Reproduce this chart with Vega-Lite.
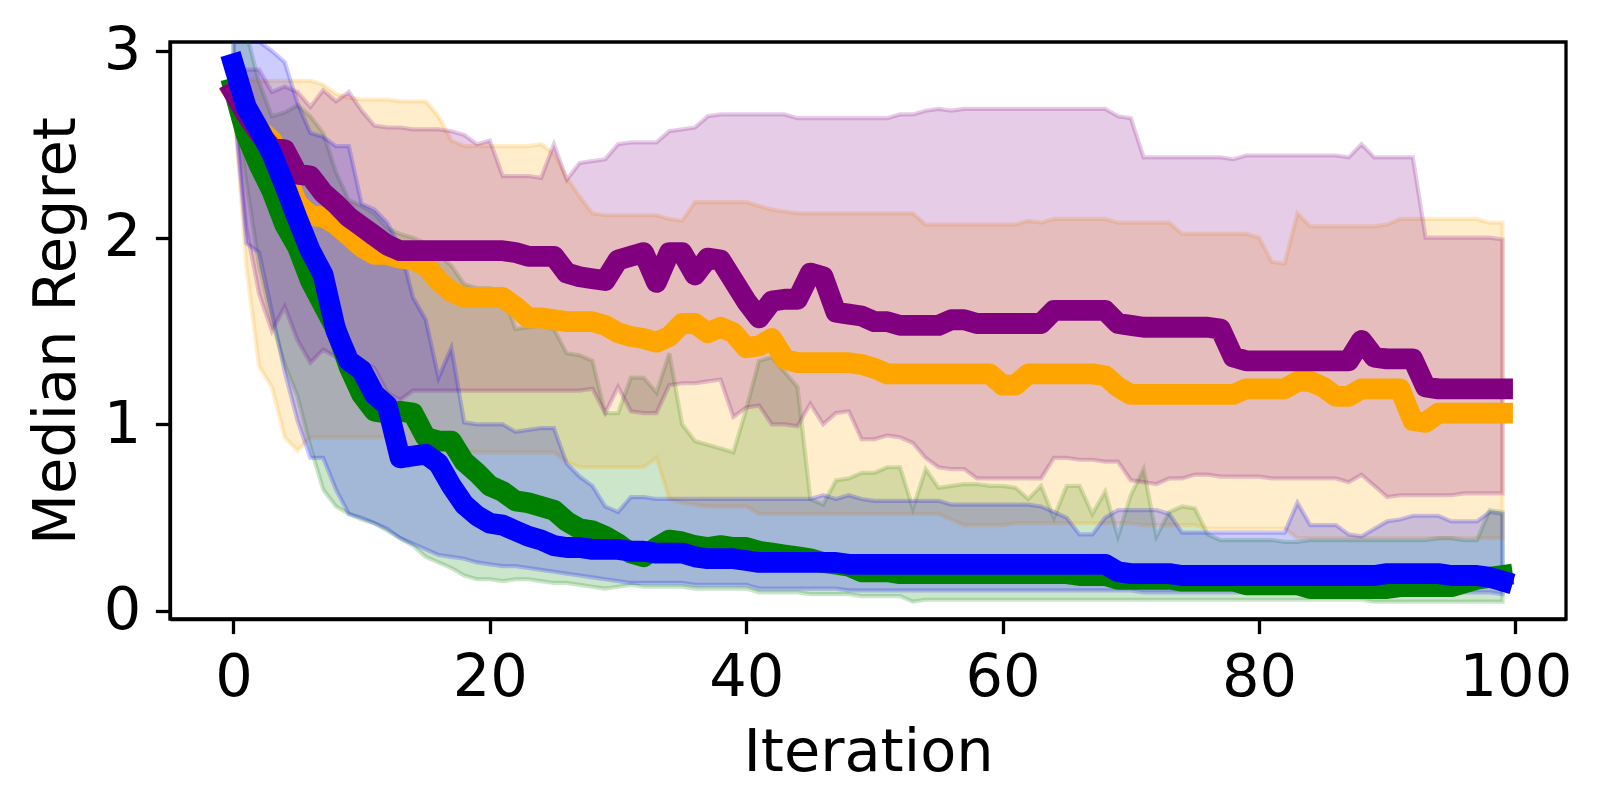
{
  "$schema": "https://vega.github.io/schema/vega-lite/v6.json",
  "width": 1396,
  "height": 577,
  "autosize": {"type": "none"},
  "padding": {"left": 170, "top": 42, "right": 34, "bottom": 191},
  "background": "white",
  "datasets": {
    "green": [
      {"i":0,"med":2.80,"lo":2.75,"hi":3.30},{"i":1,"med":2.55,"lo":2.30,"hi":3.10},{"i":2,"med":2.39,"lo":1.85,"hi":2.83},{"i":3,"med":2.25,"lo":1.55,"hi":2.65},{"i":4,"med":2.07,"lo":1.32,"hi":2.67},
      {"i":5,"med":1.95,"lo":1.15,"hi":2.71},{"i":6,"med":1.77,"lo":0.88,"hi":2.65},{"i":7,"med":1.64,"lo":0.65,"hi":2.56},{"i":8,"med":1.51,"lo":0.56,"hi":2.35},{"i":9,"med":1.31,"lo":0.52,"hi":2.20},
      {"i":10,"med":1.16,"lo":0.49,"hi":2.17},{"i":11,"med":1.07,"lo":0.47,"hi":2.13},{"i":12,"med":1.06,"lo":0.43,"hi":2.05},{"i":13,"med":1.07,"lo":0.39,"hi":2.02},{"i":14,"med":1.06,"lo":0.35,"hi":2.00},
      {"i":15,"med":0.93,"lo":0.29,"hi":1.97},{"i":16,"med":0.91,"lo":0.26,"hi":1.91},{"i":17,"med":0.91,"lo":0.23,"hi":1.85},{"i":18,"med":0.80,"lo":0.19,"hi":1.75},{"i":19,"med":0.74,"lo":0.17,"hi":1.73},
      {"i":20,"med":0.67,"lo":0.17,"hi":1.73},{"i":21,"med":0.64,"lo":0.16,"hi":1.70},{"i":22,"med":0.59,"lo":0.17,"hi":1.51},{"i":23,"med":0.58,"lo":0.17,"hi":1.52},{"i":24,"med":0.56,"lo":0.16,"hi":1.53},
      {"i":25,"med":0.54,"lo":0.15,"hi":1.51},{"i":26,"med":0.48,"lo":0.15,"hi":1.38},{"i":27,"med":0.44,"lo":0.14,"hi":1.37},{"i":28,"med":0.43,"lo":0.13,"hi":1.34},{"i":29,"med":0.40,"lo":0.12,"hi":1.06},
      {"i":30,"med":0.36,"lo":0.13,"hi":1.06},{"i":31,"med":0.31,"lo":0.14,"hi":1.25},{"i":32,"med":0.29,"lo":0.13,"hi":1.25},{"i":33,"med":0.34,"lo":0.13,"hi":1.17},{"i":34,"med":0.38,"lo":0.13,"hi":1.38},
      {"i":35,"med":0.37,"lo":0.13,"hi":1.00},{"i":36,"med":0.35,"lo":0.12,"hi":0.91},{"i":37,"med":0.34,"lo":0.12,"hi":0.89},{"i":38,"med":0.35,"lo":0.12,"hi":0.87},{"i":39,"med":0.34,"lo":0.12,"hi":0.85},
      {"i":40,"med":0.34,"lo":0.12,"hi":1.08},{"i":41,"med":0.32,"lo":0.10,"hi":1.34},{"i":42,"med":0.31,"lo":0.10,"hi":1.36},{"i":43,"med":0.30,"lo":0.10,"hi":1.28},{"i":44,"med":0.29,"lo":0.10,"hi":1.20},
      {"i":45,"med":0.28,"lo":0.09,"hi":0.60},{"i":46,"med":0.26,"lo":0.09,"hi":0.57},{"i":47,"med":0.25,"lo":0.09,"hi":0.70},{"i":48,"med":0.24,"lo":0.09,"hi":0.71},{"i":49,"med":0.21,"lo":0.08,"hi":0.74},
      {"i":50,"med":0.21,"lo":0.08,"hi":0.74},{"i":51,"med":0.21,"lo":0.08,"hi":0.77},{"i":52,"med":0.20,"lo":0.08,"hi":0.77},{"i":53,"med":0.20,"lo":0.05,"hi":0.55},{"i":54,"med":0.20,"lo":0.06,"hi":0.76},
      {"i":55,"med":0.20,"lo":0.06,"hi":0.66},{"i":56,"med":0.20,"lo":0.06,"hi":0.67},{"i":57,"med":0.20,"lo":0.06,"hi":0.68},{"i":58,"med":0.20,"lo":0.06,"hi":0.68},{"i":59,"med":0.20,"lo":0.06,"hi":0.67},
      {"i":60,"med":0.20,"lo":0.06,"hi":0.67},{"i":61,"med":0.20,"lo":0.06,"hi":0.66},{"i":62,"med":0.20,"lo":0.06,"hi":0.60},{"i":63,"med":0.20,"lo":0.06,"hi":0.67},{"i":64,"med":0.20,"lo":0.06,"hi":0.50},
      {"i":65,"med":0.20,"lo":0.06,"hi":0.67},{"i":66,"med":0.19,"lo":0.06,"hi":0.67},{"i":67,"med":0.19,"lo":0.06,"hi":0.52},{"i":68,"med":0.19,"lo":0.06,"hi":0.64},{"i":69,"med":0.17,"lo":0.06,"hi":0.40},
      {"i":70,"med":0.17,"lo":0.06,"hi":0.62},{"i":71,"med":0.17,"lo":0.06,"hi":0.76},{"i":72,"med":0.17,"lo":0.06,"hi":0.40},{"i":73,"med":0.17,"lo":0.06,"hi":0.53},{"i":74,"med":0.16,"lo":0.06,"hi":0.56},
      {"i":75,"med":0.16,"lo":0.06,"hi":0.55},{"i":76,"med":0.16,"lo":0.06,"hi":0.41},{"i":77,"med":0.16,"lo":0.06,"hi":0.38},{"i":78,"med":0.16,"lo":0.06,"hi":0.38},{"i":79,"med":0.14,"lo":0.06,"hi":0.38},
      {"i":80,"med":0.14,"lo":0.06,"hi":0.38},{"i":81,"med":0.14,"lo":0.06,"hi":0.38},{"i":82,"med":0.14,"lo":0.06,"hi":0.37},{"i":83,"med":0.14,"lo":0.06,"hi":0.37},{"i":84,"med":0.12,"lo":0.06,"hi":0.38},
      {"i":85,"med":0.12,"lo":0.06,"hi":0.38},{"i":86,"med":0.12,"lo":0.06,"hi":0.38},{"i":87,"med":0.12,"lo":0.06,"hi":0.38},{"i":88,"med":0.12,"lo":0.06,"hi":0.38},{"i":89,"med":0.12,"lo":0.05,"hi":0.38},
      {"i":90,"med":0.12,"lo":0.05,"hi":0.38},{"i":91,"med":0.13,"lo":0.05,"hi":0.38},{"i":92,"med":0.13,"lo":0.05,"hi":0.38},{"i":93,"med":0.13,"lo":0.05,"hi":0.38},{"i":94,"med":0.13,"lo":0.05,"hi":0.39},
      {"i":95,"med":0.13,"lo":0.05,"hi":0.39},{"i":96,"med":0.15,"lo":0.05,"hi":0.38},{"i":97,"med":0.17,"lo":0.05,"hi":0.38},{"i":98,"med":0.18,"lo":0.05,"hi":0.54},{"i":99,"med":0.19,"lo":0.05,"hi":0.53}
    ],
    "orange": [
      {"i":0,"med":2.78,"lo":2.75,"hi":2.85},{"i":1,"med":2.68,"lo":1.85,"hi":2.85},{"i":2,"med":2.58,"lo":1.31,"hi":2.84},{"i":3,"med":2.52,"lo":1.20,"hi":2.84},{"i":4,"med":2.35,"lo":0.93,"hi":2.84},
      {"i":5,"med":2.18,"lo":0.86,"hi":2.84},{"i":6,"med":2.12,"lo":0.93,"hi":2.84},{"i":7,"med":2.11,"lo":0.93,"hi":2.82},{"i":8,"med":2.07,"lo":0.93,"hi":2.77},{"i":9,"med":2.01,"lo":0.93,"hi":2.75},
      {"i":10,"med":1.95,"lo":0.93,"hi":2.74},{"i":11,"med":1.91,"lo":0.93,"hi":2.74},{"i":12,"med":1.91,"lo":0.93,"hi":2.74},{"i":13,"med":1.89,"lo":0.93,"hi":2.73},{"i":14,"med":1.88,"lo":0.85,"hi":2.73},
      {"i":15,"med":1.85,"lo":0.85,"hi":2.73},{"i":16,"med":1.77,"lo":0.85,"hi":2.65},{"i":17,"med":1.71,"lo":0.85,"hi":2.52},{"i":18,"med":1.68,"lo":0.85,"hi":2.49},{"i":19,"med":1.68,"lo":0.85,"hi":2.49},
      {"i":20,"med":1.68,"lo":0.85,"hi":2.49},{"i":21,"med":1.68,"lo":0.85,"hi":2.49},{"i":22,"med":1.63,"lo":0.85,"hi":2.49},{"i":23,"med":1.57,"lo":0.85,"hi":2.49},{"i":24,"med":1.57,"lo":0.85,"hi":2.50},
      {"i":25,"med":1.56,"lo":0.85,"hi":2.45},{"i":26,"med":1.55,"lo":0.80,"hi":2.32},{"i":27,"med":1.55,"lo":0.77,"hi":2.22},{"i":28,"med":1.55,"lo":0.77,"hi":2.13},{"i":29,"med":1.53,"lo":0.77,"hi":2.12},
      {"i":30,"med":1.49,"lo":0.77,"hi":2.12},{"i":31,"med":1.47,"lo":0.77,"hi":2.12},{"i":32,"med":1.46,"lo":0.77,"hi":2.12},{"i":33,"med":1.44,"lo":0.82,"hi":2.12},{"i":34,"med":1.47,"lo":0.60,"hi":2.10},
      {"i":35,"med":1.54,"lo":0.58,"hi":2.09},{"i":36,"med":1.54,"lo":0.57,"hi":2.19},{"i":37,"med":1.49,"lo":0.56,"hi":2.19},{"i":38,"med":1.52,"lo":0.56,"hi":2.19},{"i":39,"med":1.49,"lo":0.56,"hi":2.19},
      {"i":40,"med":1.41,"lo":0.56,"hi":2.19},{"i":41,"med":1.42,"lo":0.52,"hi":2.17},{"i":42,"med":1.46,"lo":0.52,"hi":2.15},{"i":43,"med":1.35,"lo":0.52,"hi":2.14},{"i":44,"med":1.33,"lo":0.52,"hi":2.13},
      {"i":45,"med":1.33,"lo":0.52,"hi":2.13},{"i":46,"med":1.33,"lo":0.52,"hi":2.13},{"i":47,"med":1.33,"lo":0.52,"hi":2.13},{"i":48,"med":1.33,"lo":0.52,"hi":2.13},{"i":49,"med":1.32,"lo":0.52,"hi":2.13},
      {"i":50,"med":1.30,"lo":0.52,"hi":2.13},{"i":51,"med":1.27,"lo":0.52,"hi":2.13},{"i":52,"med":1.27,"lo":0.52,"hi":2.13},{"i":53,"med":1.27,"lo":0.52,"hi":2.13},{"i":54,"med":1.27,"lo":0.52,"hi":2.07},
      {"i":55,"med":1.27,"lo":0.52,"hi":2.07},{"i":56,"med":1.27,"lo":0.49,"hi":2.07},{"i":57,"med":1.27,"lo":0.46,"hi":2.07},{"i":58,"med":1.27,"lo":0.46,"hi":2.07},{"i":59,"med":1.27,"lo":0.46,"hi":2.07},
      {"i":60,"med":1.21,"lo":0.46,"hi":2.07},{"i":61,"med":1.21,"lo":0.47,"hi":2.07},{"i":62,"med":1.27,"lo":0.47,"hi":2.09},{"i":63,"med":1.27,"lo":0.47,"hi":2.08},{"i":64,"med":1.27,"lo":0.47,"hi":2.10},
      {"i":65,"med":1.27,"lo":0.47,"hi":2.10},{"i":66,"med":1.27,"lo":0.47,"hi":2.10},{"i":67,"med":1.27,"lo":0.47,"hi":2.10},{"i":68,"med":1.26,"lo":0.47,"hi":2.10},{"i":69,"med":1.20,"lo":0.47,"hi":2.08},
      {"i":70,"med":1.16,"lo":0.47,"hi":2.08},{"i":71,"med":1.16,"lo":0.46,"hi":2.08},{"i":72,"med":1.16,"lo":0.46,"hi":2.08},{"i":73,"med":1.16,"lo":0.46,"hi":2.08},{"i":74,"med":1.16,"lo":0.46,"hi":2.02},
      {"i":75,"med":1.16,"lo":0.46,"hi":2.02},{"i":76,"med":1.16,"lo":0.44,"hi":2.02},{"i":77,"med":1.16,"lo":0.44,"hi":2.02},{"i":78,"med":1.16,"lo":0.44,"hi":2.02},{"i":79,"med":1.19,"lo":0.44,"hi":2.02},
      {"i":80,"med":1.19,"lo":0.44,"hi":2.00},{"i":81,"med":1.19,"lo":0.44,"hi":1.87},{"i":82,"med":1.19,"lo":0.44,"hi":1.86},{"i":83,"med":1.23,"lo":0.39,"hi":2.13},{"i":84,"med":1.23,"lo":0.39,"hi":2.06},
      {"i":85,"med":1.20,"lo":0.39,"hi":2.06},{"i":86,"med":1.15,"lo":0.39,"hi":2.06},{"i":87,"med":1.15,"lo":0.39,"hi":2.06},{"i":88,"med":1.19,"lo":0.39,"hi":2.06},{"i":89,"med":1.19,"lo":0.39,"hi":2.06},
      {"i":90,"med":1.19,"lo":0.39,"hi":2.07},{"i":91,"med":1.19,"lo":0.39,"hi":2.10},{"i":92,"med":1.02,"lo":0.39,"hi":2.10},{"i":93,"med":1.01,"lo":0.39,"hi":2.10},{"i":94,"med":1.06,"lo":0.39,"hi":2.10},
      {"i":95,"med":1.06,"lo":0.39,"hi":2.10},{"i":96,"med":1.06,"lo":0.39,"hi":2.10},{"i":97,"med":1.06,"lo":0.39,"hi":2.10},{"i":98,"med":1.06,"lo":0.39,"hi":2.08},{"i":99,"med":1.06,"lo":0.39,"hi":2.08}
    ],
    "purple": [
      {"i":0,"med":2.78,"lo":2.75,"hi":2.90},{"i":1,"med":2.66,"lo":2.05,"hi":2.90},{"i":2,"med":2.56,"lo":1.70,"hi":2.90},{"i":3,"med":2.48,"lo":1.50,"hi":2.78},{"i":4,"med":2.47,"lo":1.63,"hi":2.81},
      {"i":5,"med":2.34,"lo":1.45,"hi":2.78},{"i":6,"med":2.33,"lo":1.33,"hi":2.70},{"i":7,"med":2.24,"lo":1.40,"hi":2.79},{"i":8,"med":2.18,"lo":1.36,"hi":2.73},{"i":9,"med":2.11,"lo":1.34,"hi":2.78},
      {"i":10,"med":2.06,"lo":1.34,"hi":2.68},{"i":11,"med":2.01,"lo":1.30,"hi":2.60},{"i":12,"med":1.96,"lo":1.17,"hi":2.59},{"i":13,"med":1.93,"lo":1.13,"hi":2.59},{"i":14,"med":1.93,"lo":1.18,"hi":2.58},
      {"i":15,"med":1.93,"lo":1.18,"hi":2.58},{"i":16,"med":1.93,"lo":1.18,"hi":2.58},{"i":17,"med":1.93,"lo":1.18,"hi":2.57},{"i":18,"med":1.93,"lo":1.18,"hi":2.55},{"i":19,"med":1.93,"lo":1.18,"hi":2.50},
      {"i":20,"med":1.93,"lo":1.18,"hi":2.52},{"i":21,"med":1.93,"lo":1.18,"hi":2.33},{"i":22,"med":1.92,"lo":1.18,"hi":2.33},{"i":23,"med":1.90,"lo":1.18,"hi":2.33},{"i":24,"med":1.90,"lo":1.18,"hi":2.32},
      {"i":25,"med":1.90,"lo":1.18,"hi":2.50},{"i":26,"med":1.81,"lo":1.18,"hi":2.31},{"i":27,"med":1.79,"lo":1.18,"hi":2.40},{"i":28,"med":1.78,"lo":1.19,"hi":2.41},{"i":29,"med":1.77,"lo":1.06,"hi":2.42},
      {"i":30,"med":1.88,"lo":1.20,"hi":2.50},{"i":31,"med":1.90,"lo":1.07,"hi":2.51},{"i":32,"med":1.92,"lo":1.06,"hi":2.51},{"i":33,"med":1.76,"lo":1.06,"hi":2.51},{"i":34,"med":1.92,"lo":1.21,"hi":2.57},
      {"i":35,"med":1.92,"lo":1.22,"hi":2.58},{"i":36,"med":1.80,"lo":1.22,"hi":2.59},{"i":37,"med":1.89,"lo":1.23,"hi":2.65},{"i":38,"med":1.88,"lo":1.24,"hi":2.66},{"i":39,"med":1.77,"lo":1.04,"hi":2.66},
      {"i":40,"med":1.66,"lo":1.09,"hi":2.66},{"i":41,"med":1.57,"lo":1.10,"hi":2.66},{"i":42,"med":1.66,"lo":1.00,"hi":2.66},{"i":43,"med":1.67,"lo":1.00,"hi":2.66},{"i":44,"med":1.67,"lo":0.99,"hi":2.64},
      {"i":45,"med":1.81,"lo":1.11,"hi":2.64},{"i":46,"med":1.79,"lo":1.00,"hi":2.64},{"i":47,"med":1.60,"lo":1.06,"hi":2.64},{"i":48,"med":1.59,"lo":1.07,"hi":2.64},{"i":49,"med":1.58,"lo":0.92,"hi":2.64},
      {"i":50,"med":1.55,"lo":0.92,"hi":2.64},{"i":51,"med":1.55,"lo":0.94,"hi":2.64},{"i":52,"med":1.53,"lo":0.93,"hi":2.66},{"i":53,"med":1.53,"lo":0.90,"hi":2.66},{"i":54,"med":1.53,"lo":0.82,"hi":2.68},
      {"i":55,"med":1.53,"lo":0.77,"hi":2.69},{"i":56,"med":1.56,"lo":0.76,"hi":2.68},{"i":57,"med":1.56,"lo":0.76,"hi":2.69},{"i":58,"med":1.54,"lo":0.71,"hi":2.69},{"i":59,"med":1.54,"lo":0.71,"hi":2.69},
      {"i":60,"med":1.54,"lo":0.71,"hi":2.69},{"i":61,"med":1.54,"lo":0.71,"hi":2.69},{"i":62,"med":1.54,"lo":0.71,"hi":2.69},{"i":63,"med":1.54,"lo":0.71,"hi":2.69},{"i":64,"med":1.61,"lo":0.82,"hi":2.69},
      {"i":65,"med":1.61,"lo":0.82,"hi":2.69},{"i":66,"med":1.61,"lo":0.81,"hi":2.69},{"i":67,"med":1.61,"lo":0.81,"hi":2.69},{"i":68,"med":1.61,"lo":0.80,"hi":2.69},{"i":69,"med":1.54,"lo":0.80,"hi":2.65},
      {"i":70,"med":1.53,"lo":0.70,"hi":2.64},{"i":71,"med":1.52,"lo":0.69,"hi":2.43},{"i":72,"med":1.52,"lo":0.68,"hi":2.43},{"i":73,"med":1.52,"lo":0.71,"hi":2.43},{"i":74,"med":1.52,"lo":0.71,"hi":2.43},
      {"i":75,"med":1.52,"lo":0.73,"hi":2.43},{"i":76,"med":1.52,"lo":0.73,"hi":2.43},{"i":77,"med":1.51,"lo":0.72,"hi":2.43},{"i":78,"med":1.36,"lo":0.72,"hi":2.42},{"i":79,"med":1.34,"lo":0.72,"hi":2.44},
      {"i":80,"med":1.34,"lo":0.72,"hi":2.44},{"i":81,"med":1.34,"lo":0.71,"hi":2.44},{"i":82,"med":1.34,"lo":0.71,"hi":2.44},{"i":83,"med":1.34,"lo":0.71,"hi":2.44},{"i":84,"med":1.34,"lo":0.71,"hi":2.44},
      {"i":85,"med":1.34,"lo":0.71,"hi":2.44},{"i":86,"med":1.34,"lo":0.71,"hi":2.44},{"i":87,"med":1.34,"lo":0.69,"hi":2.43},{"i":88,"med":1.45,"lo":0.73,"hi":2.50},{"i":89,"med":1.36,"lo":0.67,"hi":2.43},
      {"i":90,"med":1.35,"lo":0.61,"hi":2.43},{"i":91,"med":1.35,"lo":0.62,"hi":2.43},{"i":92,"med":1.35,"lo":0.62,"hi":2.43},{"i":93,"med":1.20,"lo":0.62,"hi":2.00},{"i":94,"med":1.19,"lo":0.62,"hi":2.00},
      {"i":95,"med":1.19,"lo":0.62,"hi":2.00},{"i":96,"med":1.19,"lo":0.63,"hi":2.00},{"i":97,"med":1.19,"lo":0.63,"hi":2.00},{"i":98,"med":1.19,"lo":0.63,"hi":2.00},{"i":99,"med":1.19,"lo":0.63,"hi":1.99}
    ],
    "blue": [
      {"i":0,"med":2.93,"lo":2.75,"hi":3.30},{"i":1,"med":2.70,"lo":1.97,"hi":3.25},{"i":2,"med":2.58,"lo":1.92,"hi":3.05},{"i":3,"med":2.45,"lo":1.60,"hi":3.00},{"i":4,"med":2.28,"lo":1.28,"hi":2.94},
      {"i":5,"med":2.10,"lo":1.02,"hi":2.72},{"i":6,"med":1.93,"lo":0.82,"hi":2.56},{"i":7,"med":1.80,"lo":0.82,"hi":2.54},{"i":8,"med":1.50,"lo":0.65,"hi":2.49},{"i":9,"med":1.34,"lo":0.52,"hi":2.49},
      {"i":10,"med":1.29,"lo":0.50,"hi":2.18},{"i":11,"med":1.16,"lo":0.47,"hi":2.15},{"i":12,"med":1.10,"lo":0.44,"hi":2.08},{"i":13,"med":0.82,"lo":0.39,"hi":1.95},{"i":14,"med":0.83,"lo":0.36,"hi":1.68},
      {"i":15,"med":0.84,"lo":0.33,"hi":1.56},{"i":16,"med":0.79,"lo":0.30,"hi":1.25},{"i":17,"med":0.67,"lo":0.29,"hi":1.41},{"i":18,"med":0.57,"lo":0.28,"hi":1.01},{"i":19,"med":0.51,"lo":0.26,"hi":1.00},
      {"i":20,"med":0.47,"lo":0.25,"hi":1.00},{"i":21,"med":0.46,"lo":0.24,"hi":1.00},{"i":22,"med":0.43,"lo":0.24,"hi":0.96},{"i":23,"med":0.40,"lo":0.23,"hi":0.97},{"i":24,"med":0.38,"lo":0.22,"hi":0.98},
      {"i":25,"med":0.35,"lo":0.21,"hi":0.98},{"i":26,"med":0.34,"lo":0.20,"hi":0.79},{"i":27,"med":0.34,"lo":0.19,"hi":0.72},{"i":28,"med":0.33,"lo":0.18,"hi":0.67},{"i":29,"med":0.33,"lo":0.17,"hi":0.56},
      {"i":30,"med":0.33,"lo":0.16,"hi":0.53},{"i":31,"med":0.32,"lo":0.15,"hi":0.61},{"i":32,"med":0.32,"lo":0.15,"hi":0.61},{"i":33,"med":0.31,"lo":0.15,"hi":0.60},{"i":34,"med":0.31,"lo":0.15,"hi":0.60},
      {"i":35,"med":0.31,"lo":0.15,"hi":0.60},{"i":36,"med":0.29,"lo":0.14,"hi":0.60},{"i":37,"med":0.28,"lo":0.14,"hi":0.60},{"i":38,"med":0.28,"lo":0.14,"hi":0.60},{"i":39,"med":0.28,"lo":0.14,"hi":0.60},
      {"i":40,"med":0.27,"lo":0.14,"hi":0.60},{"i":41,"med":0.26,"lo":0.12,"hi":0.60},{"i":42,"med":0.26,"lo":0.12,"hi":0.60},{"i":43,"med":0.26,"lo":0.12,"hi":0.60},{"i":44,"med":0.26,"lo":0.12,"hi":0.60},
      {"i":45,"med":0.26,"lo":0.12,"hi":0.60},{"i":46,"med":0.26,"lo":0.12,"hi":0.62},{"i":47,"med":0.26,"lo":0.12,"hi":0.60},{"i":48,"med":0.25,"lo":0.11,"hi":0.62},{"i":49,"med":0.25,"lo":0.11,"hi":0.60},
      {"i":50,"med":0.25,"lo":0.11,"hi":0.59},{"i":51,"med":0.25,"lo":0.11,"hi":0.59},{"i":52,"med":0.25,"lo":0.11,"hi":0.59},{"i":53,"med":0.25,"lo":0.11,"hi":0.59},{"i":54,"med":0.25,"lo":0.11,"hi":0.59},
      {"i":55,"med":0.25,"lo":0.11,"hi":0.59},{"i":56,"med":0.25,"lo":0.11,"hi":0.57},{"i":57,"med":0.25,"lo":0.11,"hi":0.57},{"i":58,"med":0.25,"lo":0.11,"hi":0.57},{"i":59,"med":0.25,"lo":0.11,"hi":0.57},
      {"i":60,"med":0.25,"lo":0.11,"hi":0.57},{"i":61,"med":0.25,"lo":0.11,"hi":0.57},{"i":62,"med":0.25,"lo":0.11,"hi":0.57},{"i":63,"med":0.25,"lo":0.11,"hi":0.56},{"i":64,"med":0.25,"lo":0.11,"hi":0.53},
      {"i":65,"med":0.25,"lo":0.11,"hi":0.50},{"i":66,"med":0.25,"lo":0.11,"hi":0.41},{"i":67,"med":0.25,"lo":0.11,"hi":0.41},{"i":68,"med":0.25,"lo":0.11,"hi":0.50},{"i":69,"med":0.21,"lo":0.11,"hi":0.54},
      {"i":70,"med":0.20,"lo":0.11,"hi":0.54},{"i":71,"med":0.20,"lo":0.10,"hi":0.54},{"i":72,"med":0.20,"lo":0.10,"hi":0.54},{"i":73,"med":0.20,"lo":0.10,"hi":0.52},{"i":74,"med":0.19,"lo":0.10,"hi":0.42},
      {"i":75,"med":0.19,"lo":0.10,"hi":0.42},{"i":76,"med":0.19,"lo":0.10,"hi":0.42},{"i":77,"med":0.19,"lo":0.10,"hi":0.42},{"i":78,"med":0.19,"lo":0.10,"hi":0.42},{"i":79,"med":0.19,"lo":0.10,"hi":0.42},
      {"i":80,"med":0.19,"lo":0.10,"hi":0.42},{"i":81,"med":0.19,"lo":0.10,"hi":0.42},{"i":82,"med":0.19,"lo":0.10,"hi":0.42},{"i":83,"med":0.19,"lo":0.10,"hi":0.58},{"i":84,"med":0.19,"lo":0.10,"hi":0.46},
      {"i":85,"med":0.19,"lo":0.10,"hi":0.46},{"i":86,"med":0.19,"lo":0.10,"hi":0.46},{"i":87,"med":0.19,"lo":0.10,"hi":0.41},{"i":88,"med":0.19,"lo":0.10,"hi":0.40},{"i":89,"med":0.19,"lo":0.10,"hi":0.44},
      {"i":90,"med":0.20,"lo":0.10,"hi":0.48},{"i":91,"med":0.20,"lo":0.10,"hi":0.49},{"i":92,"med":0.20,"lo":0.10,"hi":0.51},{"i":93,"med":0.20,"lo":0.10,"hi":0.51},{"i":94,"med":0.20,"lo":0.10,"hi":0.51},
      {"i":95,"med":0.19,"lo":0.10,"hi":0.48},{"i":96,"med":0.19,"lo":0.10,"hi":0.48},{"i":97,"med":0.19,"lo":0.10,"hi":0.48},{"i":98,"med":0.18,"lo":0.10,"hi":0.53},{"i":99,"med":0.16,"lo":0.09,"hi":0.52}
    ]
  },
  "encoding": {
    "x": {
      "field": "i",
      "type": "quantitative",
      "scale": {"domain": [-4.95, 103.95], "nice": false, "zero": false},
      "axis": {"title": "Iteration", "values": [0, 20, 40, 60, 80, 100], "format": "d", "titlePadding": 16}
    },
    "y": {
      "field": "med",
      "type": "quantitative",
      "scale": {"domain": [-0.043, 3.048], "nice": false, "zero": false},
      "axis": {"title": "Median Regret", "values": [0, 1, 2, 3], "format": "d", "titlePadding": 17}
    }
  },
  "layer": [
    {
      "data": {"name": "green"},
      "mark": {"type": "area", "clip": true, "color": "#008000", "fillOpacity": 0.2, "stroke": "#008000", "strokeOpacity": 0.2, "strokeWidth": 4.2},
      "encoding": {"y": {"field": "lo", "type": "quantitative"}, "y2": {"field": "hi"}}
    },
    {
      "data": {"name": "orange"},
      "mark": {"type": "area", "clip": true, "color": "#FFA500", "fillOpacity": 0.2, "stroke": "#FFA500", "strokeOpacity": 0.2, "strokeWidth": 4.2},
      "encoding": {"y": {"field": "lo", "type": "quantitative"}, "y2": {"field": "hi"}}
    },
    {
      "data": {"name": "purple"},
      "mark": {"type": "area", "clip": true, "color": "#800080", "fillOpacity": 0.2, "stroke": "#800080", "strokeOpacity": 0.2, "strokeWidth": 4.2},
      "encoding": {"y": {"field": "lo", "type": "quantitative"}, "y2": {"field": "hi"}}
    },
    {
      "data": {"name": "blue"},
      "mark": {"type": "area", "clip": true, "color": "#0000FF", "fillOpacity": 0.2, "stroke": "#0000FF", "strokeOpacity": 0.2, "strokeWidth": 4.2},
      "encoding": {"y": {"field": "lo", "type": "quantitative"}, "y2": {"field": "hi"}}
    },
    {
      "data": {"name": "green"},
      "mark": {"type": "line", "clip": true, "color": "#008000", "strokeWidth": 20.8, "strokeCap": "square", "strokeJoin": "round"},
      "encoding": {"y": {"field": "med", "type": "quantitative"}}
    },
    {
      "data": {"name": "orange"},
      "mark": {"type": "line", "clip": true, "color": "#FFA500", "strokeWidth": 20.8, "strokeCap": "square", "strokeJoin": "round"},
      "encoding": {"y": {"field": "med", "type": "quantitative"}}
    },
    {
      "data": {"name": "purple"},
      "mark": {"type": "line", "clip": true, "color": "#800080", "strokeWidth": 20.8, "strokeCap": "square", "strokeJoin": "round"},
      "encoding": {"y": {"field": "med", "type": "quantitative"}}
    },
    {
      "data": {"name": "blue"},
      "mark": {"type": "line", "clip": true, "color": "#0000FF", "strokeWidth": 20.8, "strokeCap": "square", "strokeJoin": "round"},
      "encoding": {"y": {"field": "med", "type": "quantitative"}}
    }
  ],
  "config": {
    "view": {"stroke": "black", "strokeWidth": 3.3},
    "axis": {
      "grid": false,
      "domain": true,
      "domainColor": "black",
      "domainWidth": 3.3,
      "tickColor": "black",
      "tickWidth": 3.3,
      "tickSize": 14.6,
      "labelFont": "DejaVu Sans",
      "labelFontSize": 59,
      "labelColor": "black",
      "labelPadding": 14.6,
      "labelFlush": false,
      "labelOverlap": false,
      "titleFont": "DejaVu Sans",
      "titleFontSize": 59,
      "titleFontWeight": "normal",
      "titleColor": "black",
      "zindex": 1
    }
  }
}
